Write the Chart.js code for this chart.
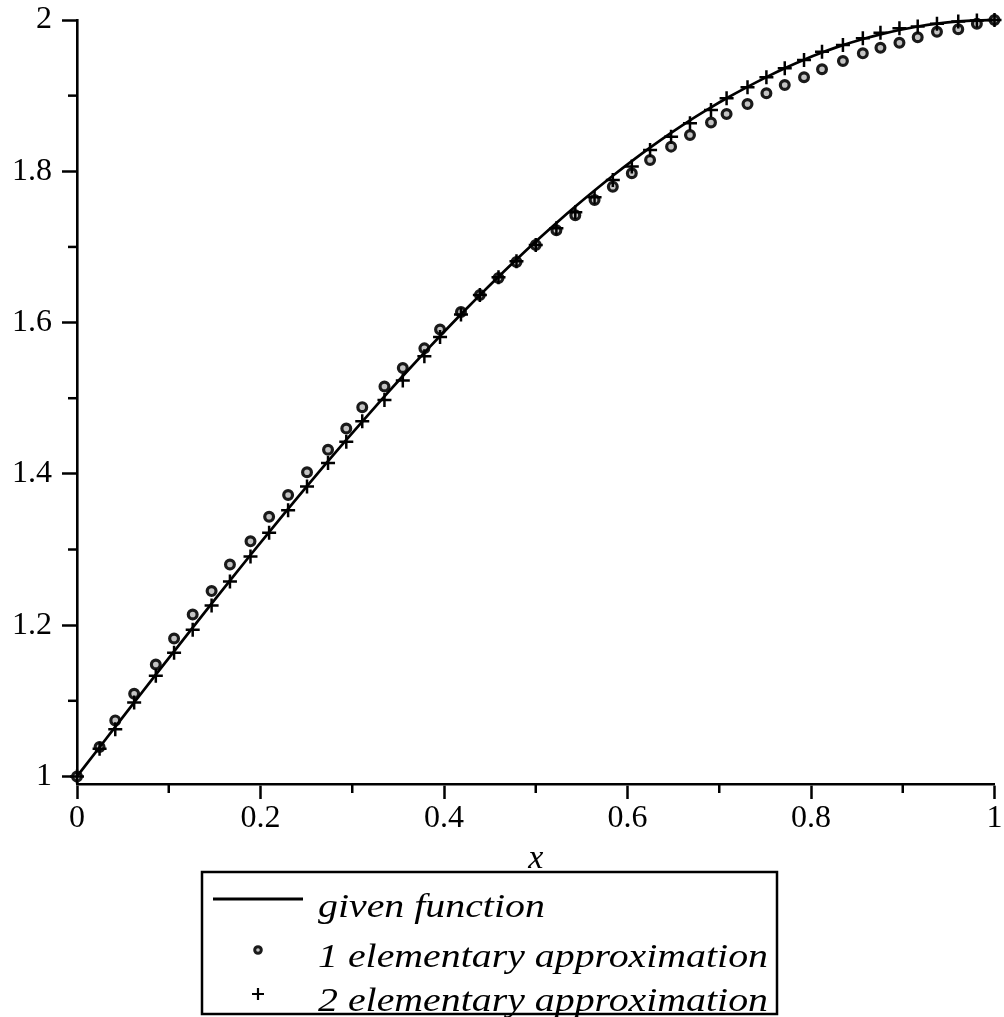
<!DOCTYPE html>
<html><head><meta charset="utf-8">
<script src="https://cdn.jsdelivr.net/npm/chart.js@4.4.0/dist/chart.umd.min.js"></script>
<style>html,body{margin:0;padding:0;background:#fff}#wrap{width:1004px;height:1017px;position:relative}</style>
</head><body><div id="wrap"><canvas id="c"></canvas></div>
<script>
const xValues = [0,0.0246,0.0417,0.0623,0.0859,0.1058,0.1261,0.1467,0.1667,0.1891,0.2094,0.2301,0.2507,0.2736,0.2935,0.3109,0.3351,0.3551,0.3786,0.3957,0.4185,0.4391,0.4594,0.479,0.5,0.5225,0.5431,0.5641,0.584,0.6047,0.6246,0.6475,0.6681,0.691,0.708,0.7308,0.7514,0.7714,0.7924,0.812,0.8348,0.8565,0.8757,0.8964,0.9163,0.9373,0.9605,0.9808,1];
const givenFunction = [1,1.0386,1.0655,1.0977,1.1345,1.1654,1.1968,1.2284,1.2589,1.2927,1.3230,1.3536,1.3837,1.4167,1.4449,1.4692,1.5024,1.5294,1.5603,1.5823,1.6110,1.6363,1.6606,1.6834,1.7071,1.7317,1.7534,1.7746,1.7941,1.8135,1.8313,1.8508,1.8674,1.8845,1.8965,1.9116,1.9245,1.9362,1.9475,1.9569,1.9668,1.9748,1.9810,1.9868,1.9914,1.9952,1.9981,1.9995,2];
const approx1 = [1,1.0388,1.0741,1.1094,1.148,1.1824,1.214,1.245,1.2802,1.3108,1.3433,1.372,1.4021,1.4318,1.46,1.4882,1.5155,1.54,1.5659,1.5908,1.6139,1.6365,1.659,1.68,1.7024,1.722,1.742,1.7621,1.7797,1.7974,1.815,1.8326,1.848,1.8644,1.8758,1.889,1.9031,1.9141,1.9243,1.9349,1.9458,1.9559,1.9634,1.97,1.9771,1.9845,1.9877,1.995,2];
const approx2 = [1,1.0365,1.0624,1.0976,1.133,1.1635,1.194,1.226,1.2576,1.2906,1.3221,1.3518,1.3833,1.4144,1.4426,1.4694,1.4976,1.5235,1.5555,1.581,1.6106,1.6365,1.66,1.6812,1.7024,1.7247,1.7458,1.7657,1.7886,1.8062,1.8282,1.8458,1.8635,1.881,1.8966,1.911,1.9243,1.9362,1.9471,1.9581,1.967,1.9758,1.9832,1.989,1.9914,1.9952,1.9981,1.9995,2];
const seriesNames = ['given function','1 elementary approximation','2 elementary approximation'];
const xTickValues = [0,0.1,0.2,0.3,0.4,0.5,0.6,0.7,0.8,0.9,1];
const xTickLabels = ['0','','0.2','','0.4','','0.6','','0.8','','1'];
const yTickValues = [1,1.1,1.2,1.3,1.4,1.5,1.6,1.7,1.8,1.9,2];
const yTickLabels = ['1','','1.2','','1.4','','1.6','','1.8','','2'];
const xTitle = 'x';

const pts = ys => xValues.map((x,i)=>({x:x,y:ys[i]}));
const FONT = "'Liberation Serif','Times New Roman',serif";

const minorTicks = {
  id:'minorTicks',
  afterDraw(chart){
    const ctx = chart.ctx, ca = chart.chartArea;
    const xs = chart.scales.x, ys = chart.scales.y;
    ctx.save();
    ctx.strokeStyle = '#000'; ctx.lineWidth = 2.5; ctx.lineCap = 'butt';
    xTickValues.forEach((v,i)=>{ if(xTickLabels[i]==='' ){ const p = xs.getPixelForValue(v); ctx.beginPath(); ctx.moveTo(p, ca.bottom); ctx.lineTo(p, ca.bottom+9); ctx.stroke(); }});
    yTickValues.forEach((v,i)=>{ if(yTickLabels[i]==='' ){ const p = ys.getPixelForValue(v); ctx.beginPath(); ctx.moveTo(ca.left, p); ctx.lineTo(ca.left-9, p); ctx.stroke(); }});
    ctx.restore();
  }
};

const boxLegend = {
  id:'boxLegend',
  afterDraw(chart){
    const ctx = chart.ctx;
    const ds = chart.data.datasets;
    ctx.save();
    ctx.strokeStyle = '#000'; ctx.lineWidth = 2.5;
    ctx.strokeRect(202, 872, 575, 142);
    ctx.beginPath(); ctx.lineWidth = 3; ctx.moveTo(213, 899); ctx.lineTo(303, 899); ctx.stroke();
    ctx.fillStyle = ds[1].pointBackgroundColor; ctx.strokeStyle = ds[1].pointBorderColor; ctx.lineWidth = 3;
    ctx.beginPath(); ctx.arc(258, 950, 3.3, 0, Math.PI*2); ctx.fill(); ctx.stroke();
    ctx.strokeStyle = '#000'; ctx.lineWidth = 2.2;
    ctx.beginPath(); ctx.moveTo(252, 994); ctx.lineTo(264, 994); ctx.moveTo(258, 988); ctx.lineTo(258, 1000); ctx.stroke();
    ctx.fillStyle = '#000';
    ctx.font = "italic 33px " + FONT;
    ctx.textBaseline = 'alphabetic'; ctx.textAlign = 'left';
    const w = ctx.measureText(seriesNames[1]).width;
    const sx = 450 / w;
    const baselines = [917, 967, 1011];
    seriesNames.forEach((t,i)=>{
      ctx.save(); ctx.translate(318, baselines[i]); ctx.scale(sx,1); ctx.fillText(t, 0, 0); ctx.restore();
    });
    ctx.restore();
  }
};

new Chart(document.getElementById('c'), {
  type:'scatter',
  data:{datasets:[
    {label:seriesNames[0], data:pts(givenFunction), showLine:true, borderColor:'#000', borderWidth:2.7, pointRadius:0, pointHoverRadius:0, cubicInterpolationMode:'monotone', clip:false, order:0},
    {label:seriesNames[1], data:pts(approx1), showLine:false, pointStyle:'circle', pointRadius:4.4, pointBorderWidth:3.2, pointBorderColor:'#1a1a1a', pointBackgroundColor:'#c4c4c4', clip:false, order:2},
    {label:seriesNames[2], data:pts(approx2), showLine:false, pointStyle:'cross', pointRadius:7, pointBorderWidth:2.5, pointBorderColor:'#000', pointBackgroundColor:'#000', clip:false, order:1}
  ]},
  options:{
    responsive:true, maintainAspectRatio:false, animation:false,
    layout:{padding:{top:20,right:7,bottom:138,left:0}},
    plugins:{legend:{display:false}, tooltip:{enabled:false}},
    scales:{
      x:{type:'linear', min:0, max:1,
        afterBuildTicks:s=>{s.ticks = xTickValues.map(v=>({value:v}));},
        afterFit:s=>{s.height = 1017-784-138; s.paddingLeft = 0; s.paddingRight = 0;},
        ticks:{autoSkip:false, maxRotation:0, padding:0, color:'#000', font:{family:FONT, size:32},
          callback:(v,i)=>xTickLabels[i]},
        grid:{drawOnChartArea:false, drawTicks:true, tickLength:15, tickWidth:2.5,
          tickColor:c=> xTickLabels[c.index]==='' ? 'rgba(0,0,0,0)' : '#000'},
        border:{display:true, color:'#000', width:2.6},
        title:{display:true, text:xTitle, color:'#000', padding:{top:0,bottom:0}, font:{family:FONT, size:34, style:'italic'}}
      },
      y:{type:'linear', min:0.99, max:2,
        afterBuildTicks:s=>{s.ticks = yTickValues.map(v=>({value:v}));},
        afterFit:s=>{s.width = 77; s.paddingTop = 0; s.paddingBottom = 0;},
        ticks:{autoSkip:false, padding:10, color:'#000', font:{family:FONT, size:32},
          callback:(v,i)=>yTickLabels[i]},
        grid:{drawOnChartArea:false, drawTicks:true, tickLength:15, tickWidth:2.5,
          tickColor:c=> yTickLabels[c.index]==='' ? 'rgba(0,0,0,0)' : '#000'},
        border:{display:true, color:'#000', width:2.6}
      }
    }
  },
  plugins:[minorTicks, boxLegend]
});
</script></body></html>
